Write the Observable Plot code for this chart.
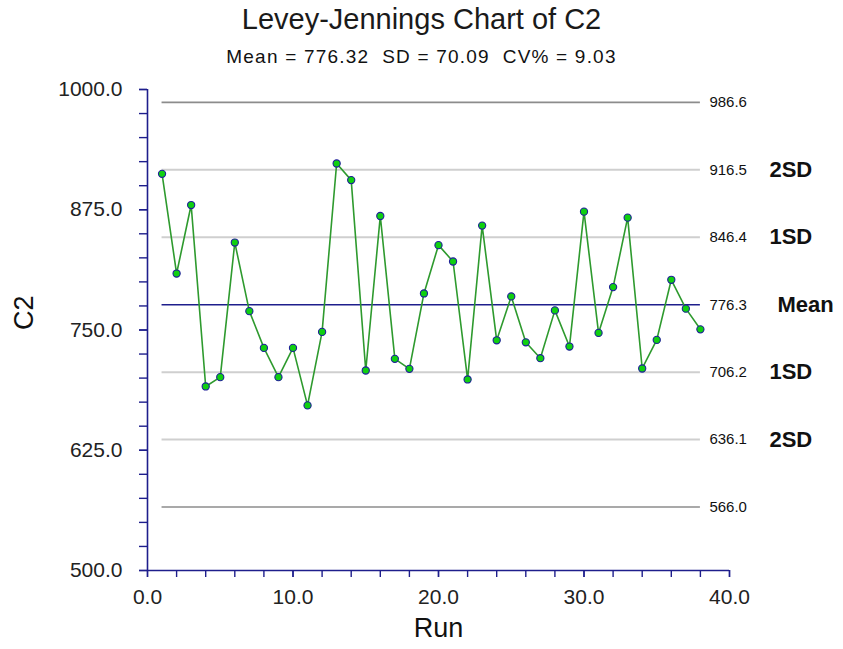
<!DOCTYPE html>
<html>
<head>
<meta charset="utf-8">
<script src="https://cdn.jsdelivr.net/npm/d3@7"></script>
<script src="https://cdn.jsdelivr.net/npm/@observablehq/plot@0.6"></script>
<style>
  html, body { margin: 0; padding: 0; background: #fff; }
  body { width: 843px; height: 649px; overflow: hidden; font-family: "Liberation Sans", Arial, sans-serif; }
  #head { position: relative; width: 843px; height: 70px; }
  #title { position: absolute; left: 0; width: 843px; top: 2px; text-align: center; font-size: 29px; line-height: 34px; color: #1a1a1a; }
  #subtitle { position: absolute; left: 0; width: 843px; top: 45px; text-align: center; font-size: 19px; line-height: 24px; color: #111; white-space: pre; letter-spacing: 1.2px; }
  svg { display: block; }
</style>
</head>
<body>
<div id="head">
  <div id="title">Levey-Jennings Chart of C2</div>
  <div id="subtitle">Mean = 776.32  SD = 70.09  CV% = 9.03</div>
</div>
<div id="chart"></div>
<script>
const runs = [1,2,3,4,5,6,7,8,9,10,11,12,13,14,15,16,17,18,19,20,21,22,23,24,25,26,27,28,29,30,31,32,33,34,35,36,37,38];
const values = [912.3, 808.7, 879.9, 691.3, 701.0, 840.9, 769.6, 731.4, 701.0, 731.4,
                671.6, 748.0, 923.1, 905.8, 707.9, 868.5, 720.0, 709.6, 788.0, 838.2,
                821.2, 698.6, 858.5, 739.3, 784.9, 737.2, 720.7, 770.4, 732.8, 873.0,
                747.0, 794.6, 866.8, 710.0, 739.7, 802.2, 772.2, 750.7];
const limitValues = [986.6, 916.5, 846.4, 776.3, 706.2, 636.1, 566.0];
const limitKinds  = ["outer", "inner", "inner", "mean", "inner", "inner", "outer"];
const limitNames  = ["", "2SD", "1SD", "Mean", "1SD", "2SD", ""];
const yTicksMajor = [500, 625, 750, 875, 1000];
const xTicksMajor = [0, 10, 20, 30, 40];

const points = runs.map((r, i) => ({run: r, value: values[i]}));
const limits = limitValues.map((v, i) => ({value: v, kind: limitKinds[i], name: limitNames[i]}));
const runMin = d3.min(runs), runMax = d3.max(runs);
const limitColor = {outer: "#8c8c8c", inner: "#cfcfcf", mean: "#1e1e8c"};
const axisColor = "#1e1e8c";

const chart = Plot.plot({
  width: 843,
  height: 579,
  marginTop: 19,
  marginBottom: 79,
  marginLeft: 147,
  marginRight: 114,
  style: {fontFamily: "'Liberation Sans', Arial, sans-serif", color: "#111", background: "#fff"},
  x: {domain: [0, 40], label: null},
  y: {domain: [500, 1000], label: null},
  marks: [
    Plot.ruleY(limits, {y: "value", x1: runMin, x2: runMax,
      stroke: d => limitColor[d.kind], strokeWidth: d => d.kind === "inner" ? 2 : 1.6}),
    Plot.text(limits, {y: "value", x: runMax, text: d => d.value.toFixed(1), textAnchor: "start", dx: 9, fontSize: 15, fill: "#111"}),
    Plot.text(limits.filter(d => d.name && d.name !== "Mean"), {y: "value", x: runMax, text: "name", textAnchor: "start", dx: 69, fontSize: 22, fontWeight: "bold", fill: "#111"}),
    Plot.text(limits.filter(d => d.name === "Mean"), {y: "value", x: runMax, text: "name", textAnchor: "start", dx: 77, fontSize: 22, fontWeight: "bold", fill: "#111"}),
    Plot.line(points, {x: "run", y: "value", stroke: "#2e9a2e", strokeWidth: 1.6}),
    Plot.dot(points, {x: "run", y: "value", r: 3.6, fill: "#10d010", stroke: "#1e1e9a", strokeWidth: 1.1}),
    Plot.ruleX([0], {y1: 500, y2: 1000, stroke: axisColor, strokeWidth: 1.6}),
    Plot.ruleY([500], {x1: 0, x2: 40, stroke: axisColor, strokeWidth: 1.6}),
    Plot.axisY(d3.range(500, 1001, 25), {tickSize: 8, tickFormat: () => "", stroke: axisColor, strokeWidth: 1.4, label: null}),
    Plot.axisY(yTicksMajor, {tickSize: 8, tickPadding: 17, tickFormat: d => d.toFixed(1), fontSize: 21, stroke: axisColor, strokeWidth: 1.4, fill: "#222", label: null}),
    Plot.axisX(d3.range(0, 41, 2), {tickSize: 7, tickFormat: () => "", stroke: axisColor, strokeWidth: 1.4, label: null}),
    Plot.axisX(xTicksMajor, {tickSize: 7, tickPadding: 12, tickFormat: d => d.toFixed(1), fontSize: 21, stroke: axisColor, strokeWidth: 1.4, fill: "#222", label: null}),
    Plot.text(["C2"], {frameAnchor: "left", dx: -123, rotate: -90, fontSize: 27, fill: "#111"}),
    Plot.text(["Run"], {frameAnchor: "bottom", dy: 66, fontSize: 27, fill: "#111"})
  ]
});
document.getElementById("chart").appendChild(chart);
</script>
</body>
</html>
